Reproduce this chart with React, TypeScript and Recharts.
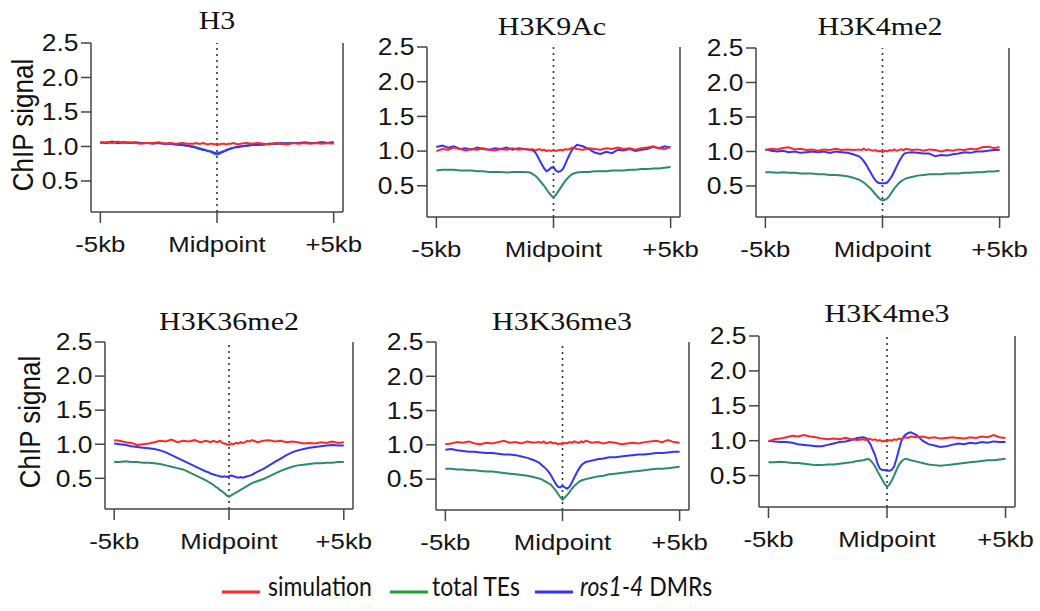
import { LineChart, Line, XAxis, YAxis, ReferenceLine } from 'recharts';

// distance from the midpoint, kb
const positions = [
  -5, -4.75, -4.5, -4.25, -4, -3.75, -3.5, -3.25, -3, -2.75, -2.5, -2.25, -2, -1.75, -1.5, -1.25,
  -1, -0.9, -0.8, -0.7, -0.6, -0.5, -0.4, -0.3, -0.2, -0.1, 0, 0.1, 0.2, 0.3, 0.4, 0.5, 0.6, 0.7, 0.8, 0.9, 1,
  1.25, 1.5, 1.75, 2, 2.25, 2.5, 2.75, 3, 3.25, 3.5, 3.75, 4, 4.25, 4.5, 4.75, 5,
];
const xTicks = [-5, 0, 5];
const xTickLabels = ['-5kb', 'Midpoint', '+5kb'];
const yTicks = [0.5, 1.0, 1.5, 2.0, 2.5];
const seriesNames = ['simulation', 'total TEs', 'ros1-4 DMRs'];

// H3
const h3Sim = [
  1.05, 1.06, 1.05, 1.07, 1.05, 1.06, 1.05, 1.04, 1.05, 1.05, 1.06, 1.04, 1.05, 1.04, 1.05, 1.04,
  1.04, 1.05, 1.04, 1.04, 1.05, 1.04, 1.03, 1.04, 1.04, 1.03, 1.04, 1.03, 1.04, 1.04, 1.03, 1.04, 1.04, 1.05, 1.04, 1.03, 1.04,
  1.05, 1.04, 1.05, 1.04, 1.03, 1.05, 1.04, 1.03, 1.05, 1.04, 1.05, 1.04, 1.05, 1.04, 1.05, 1.04,
];
const h3Te = [
  1.06, 1.05, 1.06, 1.05, 1.06, 1.05, 1.05, 1.05, 1.05, 1.05, 1.05, 1.04, 1.04, 1.03, 1.02, 1.01,
  1.0, 0.99, 0.98, 0.97, 0.96, 0.95, 0.94, 0.93, 0.91, 0.89, 0.88, 0.89, 0.91, 0.93, 0.94, 0.96, 0.97, 0.98, 0.99, 1.0, 1.0,
  1.01, 1.02, 1.03, 1.03, 1.04, 1.04, 1.04, 1.05, 1.05, 1.05, 1.05, 1.05, 1.05, 1.06, 1.05, 1.06,
];
const h3Dmr = [
  1.06, 1.05, 1.07, 1.05, 1.06, 1.05, 1.06, 1.05, 1.05, 1.04, 1.05, 1.04, 1.04, 1.03, 1.02, 1.01,
  0.99, 0.98, 0.97, 0.96, 0.95, 0.95, 0.93, 0.93, 0.92, 0.91, 0.9, 0.91, 0.92, 0.93, 0.95, 0.96, 0.97, 0.98, 0.99, 0.99, 1.0,
  1.01, 1.02, 1.02, 1.03, 1.04, 1.04, 1.05, 1.04, 1.05, 1.05, 1.06, 1.05, 1.05, 1.06, 1.05, 1.06,
];

// H3K9Ac
const k9Sim = [
  1.0, 1.03, 1.02, 1.05, 1.03, 1.01, 1.03, 1.02, 1.04, 1.02, 1.01, 1.03, 1.02, 1.04, 1.02, 1.03,
  1.02, 1.03, 1.01, 1.02, 1.03, 1.01, 1.02, 1.0, 1.01, 1.0, 1.01, 1.0, 1.01, 1.02, 1.01, 1.03, 1.02, 1.03, 1.05, 1.04, 1.03,
  1.02, 1.04, 1.03, 1.02, 1.04, 1.03, 1.05, 1.03, 1.04, 1.02, 1.04, 1.05, 1.07, 1.04, 1.03, 1.06,
];
const k9Te = [
  0.72, 0.73, 0.73, 0.73, 0.72, 0.72, 0.72, 0.71, 0.71, 0.7, 0.7, 0.7, 0.69, 0.7, 0.7, 0.7,
  0.69, 0.67, 0.65, 0.62, 0.58, 0.54, 0.5, 0.45, 0.4, 0.36, 0.33, 0.37, 0.42, 0.47, 0.52, 0.57, 0.61, 0.64, 0.67, 0.68, 0.69,
  0.7, 0.7, 0.71, 0.71, 0.71, 0.72, 0.72, 0.72, 0.73, 0.73, 0.74, 0.74, 0.75, 0.75, 0.76, 0.77,
];
const k9Dmr = [
  1.06, 1.08, 1.05, 1.07, 1.03, 1.04, 1.02, 1.05, 1.03, 1.02, 1.04, 1.03, 1.05, 1.02, 1.04, 1.03,
  1.02, 1.01, 0.99, 0.94, 0.87, 0.81, 0.75, 0.71, 0.73, 0.76, 0.77, 0.72, 0.7, 0.71, 0.74, 0.81, 0.89, 0.96, 1.02, 1.06, 1.09,
  1.07, 1.03, 0.98, 0.96, 0.99, 0.97, 1.02, 1.01, 1.03, 1.0, 1.02, 1.03, 1.06, 1.04, 1.07, 1.05,
];

// H3K4me2
const k4me2Sim = [
  1.02, 1.04, 1.03, 1.05, 1.06, 1.03, 1.04, 1.02, 1.03, 1.01, 1.03, 1.02, 1.04, 1.02, 1.03, 1.02,
  1.03, 1.02, 1.04, 1.02, 1.03, 1.02, 1.01, 1.02, 1.0, 1.01, 0.99, 1.01, 1.0, 1.02, 1.01, 1.03, 1.01, 1.02, 1.03, 1.02, 1.04,
  1.02, 1.03, 1.01, 1.03, 1.02, 1.0, 1.02, 1.01, 1.03, 1.02, 1.04, 1.03, 1.06, 1.07, 1.05, 1.06,
];
const k4me2Te = [
  0.7, 0.7, 0.69, 0.7, 0.69, 0.69, 0.68, 0.68, 0.68, 0.67, 0.67, 0.66, 0.66, 0.65, 0.64, 0.62,
  0.59, 0.57, 0.55, 0.52, 0.49, 0.46, 0.42, 0.38, 0.34, 0.31, 0.29, 0.3, 0.32, 0.36, 0.41, 0.46, 0.5, 0.54, 0.57, 0.59, 0.61,
  0.63, 0.65, 0.66, 0.67, 0.67, 0.67, 0.68, 0.68, 0.68, 0.69, 0.69, 0.7, 0.7, 0.71, 0.71, 0.72,
];
const k4me2Dmr = [
  1.03, 1.01, 1.0, 1.01, 0.99, 1.0, 0.98, 0.99, 1.0, 0.99, 1.0, 0.98, 1.0, 0.99, 0.98, 0.96,
  0.93, 0.9, 0.86, 0.81, 0.75, 0.69, 0.63, 0.58, 0.55, 0.54, 0.54, 0.54, 0.55, 0.59, 0.64, 0.71, 0.78, 0.85, 0.91, 0.96, 0.98,
  0.99, 0.98, 0.97, 0.97, 0.93, 0.95, 0.94, 0.96, 0.97, 0.99, 0.98, 1.0, 1.0, 1.01, 1.02, 1.02,
];

// H3K36me2
const k36me2Sim = [
  1.06, 1.05, 1.03, 1.02, 0.99, 1.0, 1.01, 1.03, 1.05, 1.04, 1.07, 1.03, 1.05, 1.04, 1.06, 1.03,
  1.05, 1.04, 1.03, 1.05, 1.04, 1.03, 1.05, 1.02, 1.01, 1.0, 0.99, 1.01, 1.0, 1.02, 1.01, 1.03, 1.02, 1.03, 1.05, 1.04, 1.06,
  1.03, 1.05, 1.06, 1.04, 1.05, 1.03, 1.04, 1.03, 1.01, 1.02, 1.01, 1.03, 1.02, 1.04, 1.02, 1.03,
];
const k36me2Te = [
  0.74, 0.74, 0.75, 0.74, 0.74, 0.73, 0.73, 0.72, 0.71, 0.69, 0.67, 0.65, 0.63, 0.59, 0.55, 0.51,
  0.47, 0.45, 0.43, 0.41, 0.38, 0.36, 0.33, 0.31, 0.28, 0.25, 0.23, 0.25, 0.27, 0.29, 0.31, 0.33, 0.35, 0.37, 0.39, 0.41, 0.43,
  0.46, 0.49, 0.53, 0.57, 0.61, 0.64, 0.67, 0.69, 0.7, 0.71, 0.72, 0.72, 0.73, 0.73, 0.74, 0.74,
];
const k36me2Dmr = [
  1.01, 1.0, 0.99, 0.97, 0.96, 0.95, 0.94, 0.93, 0.91, 0.88, 0.84, 0.8, 0.76, 0.72, 0.68, 0.64,
  0.6, 0.59, 0.57, 0.56, 0.55, 0.54, 0.53, 0.52, 0.53, 0.52, 0.53, 0.54, 0.53, 0.52, 0.51, 0.52, 0.51, 0.52, 0.53, 0.54, 0.55,
  0.6, 0.64, 0.69, 0.74, 0.79, 0.84, 0.88, 0.91, 0.93, 0.95, 0.96, 0.97, 0.98, 0.99, 0.98, 0.98,
];

// H3K36me3
const k36me3Sim = [
  1.01, 1.02, 1.04, 1.03, 1.05, 1.02, 1.01, 1.03, 1.02, 1.04, 1.06, 1.03, 1.04, 1.02, 1.05, 1.03,
  1.04, 1.03, 1.05, 1.02, 1.03, 1.04, 1.02, 1.03, 1.01, 1.02, 1.01, 1.03, 1.02, 1.04, 1.03, 1.05, 1.04, 1.03, 1.05, 1.04, 1.06,
  1.03, 1.04, 1.02, 1.04, 1.03, 1.01, 1.02, 1.03, 1.02, 1.04, 1.05, 1.06, 1.04, 1.07, 1.04, 1.03,
];
const k36me3Te = [
  0.65, 0.65, 0.64, 0.64, 0.63, 0.63, 0.62, 0.61, 0.61, 0.6, 0.59, 0.58, 0.57, 0.56, 0.55, 0.53,
  0.51, 0.5, 0.48, 0.46, 0.44, 0.42, 0.38, 0.34, 0.29, 0.24, 0.2, 0.23, 0.27, 0.31, 0.36, 0.4, 0.43, 0.46, 0.48, 0.49, 0.5,
  0.52, 0.54, 0.55, 0.57, 0.58, 0.59, 0.6, 0.61, 0.62, 0.63, 0.64, 0.65, 0.65, 0.66, 0.67, 0.68,
];
const k36me3Dmr = [
  0.93, 0.94, 0.92, 0.91, 0.9, 0.9, 0.89, 0.88, 0.88, 0.87, 0.86, 0.86, 0.85, 0.83, 0.81, 0.78,
  0.74, 0.71, 0.68, 0.65, 0.61, 0.56, 0.5, 0.44, 0.39, 0.38, 0.4, 0.38, 0.36, 0.39, 0.45, 0.52, 0.59, 0.65, 0.7, 0.73, 0.75,
  0.77, 0.79, 0.8, 0.82, 0.82, 0.83, 0.84, 0.85, 0.86, 0.86, 0.87, 0.88, 0.88, 0.89, 0.9, 0.9,
];

// H3K4me3
const k4me3Sim = [
  0.99, 1.02, 1.03, 1.05, 1.07, 1.06, 1.08, 1.06, 1.05, 1.03, 1.02, 1.03, 1.02, 1.04, 1.02, 1.01,
  1.02, 1.01, 1.03, 1.02, 1.01, 1.02, 1.0, 1.01, 0.99, 1.0, 0.99, 1.01, 1.0, 1.02, 1.01, 1.03, 1.02, 1.04, 1.05, 1.04, 1.06,
  1.05, 1.06, 1.04, 1.05, 1.03, 1.04, 1.05, 1.04, 1.03, 1.05, 1.04, 1.06, 1.05, 1.08, 1.05, 1.04,
];
const k4me3Te = [
  0.69, 0.69, 0.7, 0.69, 0.68, 0.68, 0.67, 0.66, 0.65, 0.65, 0.66, 0.66, 0.67, 0.68, 0.69, 0.71,
  0.72, 0.73, 0.74, 0.72, 0.68, 0.63, 0.56, 0.5, 0.44, 0.38, 0.34, 0.37, 0.43, 0.5, 0.58, 0.65, 0.7, 0.73, 0.74, 0.73, 0.72,
  0.7, 0.68, 0.66, 0.65, 0.64, 0.65, 0.66, 0.67, 0.68, 0.69, 0.7, 0.71, 0.72, 0.72, 0.73, 0.74,
];
const k4me3Dmr = [
  1.0, 0.99, 0.98, 0.98, 0.97, 0.95, 0.94, 0.93, 0.92, 0.92, 0.94, 0.96, 0.98, 0.99, 1.01, 1.04,
  1.05, 1.04, 1.0, 0.95, 0.87, 0.79, 0.67, 0.6, 0.58, 0.58, 0.57, 0.57, 0.58, 0.63, 0.74, 0.87, 0.99, 1.06, 1.09, 1.11, 1.12,
  1.08, 1.0, 0.95, 0.93, 0.91, 0.92, 0.94, 0.96, 0.95, 0.97, 0.96, 0.98, 0.97, 0.99, 0.98, 0.98,
];

const panels = [
  { title: 'H3', sim: h3Sim, te: h3Te, dmr: h3Dmr },
  { title: 'H3K9Ac', sim: k9Sim, te: k9Te, dmr: k9Dmr },
  { title: 'H3K4me2', sim: k4me2Sim, te: k4me2Te, dmr: k4me2Dmr },
  { title: 'H3K36me2', sim: k36me2Sim, te: k36me2Te, dmr: k36me2Dmr },
  { title: 'H3K36me3', sim: k36me3Sim, te: k36me3Te, dmr: k36me3Dmr },
  { title: 'H3K4me3', sim: k4me3Sim, te: k4me3Te, dmr: k4me3Dmr },
];

// plot boxes on the page (left, right, top, bottom) and title anchors
const boxes = [
  { l: 91, r: 343, t: 43, b: 212, tx: 217, ty: 29 },
  { l: 427, r: 680, t: 47, b: 217, tx: 552, ty: 35 },
  { l: 756, r: 1009, t: 48, b: 217, tx: 880, ty: 35 },
  { l: 105, r: 353, t: 342, b: 509, tx: 229, ty: 330 },
  { l: 436, r: 689, t: 342, b: 510, tx: 562, ty: 330 },
  { l: 759, r: 1015, t: 336, b: 507, tx: 887, ty: 322 },
];

const SIM = '#ff2626';
const TE = '#2b8c6c';
const DMR = '#3333ff';
const AXIS = '#454545';
const SANS = '"Liberation Sans", Arial, sans-serif';
const PAD_L = 100;
const PAD_R = 40;
const PAD_T = 12;
const PAD_B = 50;

function XTick(props: any) {
  const { x, y, payload } = props;
  const label = xTickLabels[xTicks.indexOf(payload.value)];
  return (
    <text transform={`translate(${x},${y + 27}) scale(1.12,1)`} textAnchor="middle"
      fontFamily={SANS} fontSize={23} fill="#151515">{label}</text>
  );
}

function YTick(props: any) {
  const { x, y, payload } = props;
  return (
    <text transform={`translate(${x - 0.5},${y}) scale(1.15,1)`} textAnchor="end" dy="0.36em"
      fontFamily={SANS} fontSize={23} fill="#151515">{Number(payload.value).toFixed(1)}</text>
  );
}

function Panel({ idx }: { idx: number }) {
  const p = panels[idx];
  const bx = boxes[idx];
  const rows = positions.map((x, i) => ({ x, sim: p.sim[i], te: p.te[i], dmr: p.dmr[i] }));
  const w = bx.r - bx.l + PAD_L + PAD_R;
  const h = bx.b - bx.t + PAD_T + PAD_B;
  return (
    <div style={{ position: 'absolute', left: bx.l - PAD_L, top: bx.t - PAD_T, width: w, height: h }}>
      <LineChart width={w} height={h} data={rows} margin={{ top: PAD_T, right: PAD_R, bottom: 0, left: 0 }}>
        <XAxis type="number" dataKey="x" domain={[-5.4, 5.4]} ticks={xTicks} interval={0} allowDataOverflow
          height={PAD_B} tickSize={11} axisLine={{ stroke: AXIS, strokeWidth: 1.5 }}
          tickLine={{ stroke: AXIS, strokeWidth: 1.5 }} tick={(t: any) => <XTick {...t} />} />
        <YAxis type="number" domain={[0.05, 2.5]} ticks={yTicks} interval={0} allowDataOverflow
          width={PAD_L} tickSize={10} axisLine={{ stroke: AXIS, strokeWidth: 1.5 }}
          tickLine={{ stroke: AXIS, strokeWidth: 1.5 }} tick={(t: any) => <YTick {...t} />} />
        <ReferenceLine x={0} stroke="#333" strokeDasharray="2 4" strokeWidth={1.6} />
        <ReferenceLine x={5.4} stroke={AXIS} strokeWidth={1.5} />
        <Line type="linear" dataKey="te" stroke={TE} strokeWidth={2} dot={false} isAnimationActive={false} />
        <Line type="linear" dataKey="dmr" stroke={DMR} strokeWidth={2} dot={false} isAnimationActive={false} />
        <Line type="linear" dataKey="sim" stroke={SIM} strokeWidth={2} dot={false} isAnimationActive={false} />
      </LineChart>
    </div>
  );
}

export default function App() {
  return (
    <div style={{ position: 'absolute', left: 0, top: 0, width: 1040, height: 611, background: '#fff', overflow: 'hidden' }}>
      {panels.map((_, i) => <Panel key={i} idx={i} />)}
      <svg width={1040} height={611} style={{ position: 'absolute', left: 0, top: 0, pointerEvents: 'none' }}>
        {panels.map((p, i) => (
          <text key={p.title} transform={`translate(${boxes[i].tx},${boxes[i].ty}) scale(1.2,1)`} textAnchor="middle"
            fontFamily='"Liberation Serif", "Times New Roman", serif' fontSize={25} fill="#111">{p.title}</text>
        ))}
        <text transform="translate(33,125) rotate(-90) scale(1,1.1)" textAnchor="middle"
          fontFamily={SANS} fontSize={26} fill="#111">ChIP signal</text>
        <text transform="translate(40,422) rotate(-90) scale(1,1.1)" textAnchor="middle"
          fontFamily={SANS} fontSize={26} fill="#111">ChIP signal</text>
        <rect x={222} y={590.5} width={38} height={3} fill={SIM} />
        <text transform="translate(268,596) scale(1,1.15)" fontFamily="Lato, sans-serif" fontSize={23} fill="#111">{seriesNames[0]}</text>
        <rect x={390} y={590.5} width={38} height={3} fill="#22a035" />
        <text transform="translate(432,596) scale(1,1.15)" fontFamily="Lato, sans-serif" fontSize={23} fill="#111">{seriesNames[1]}</text>
        <rect x={535} y={590.5} width={38} height={3} fill={DMR} />
        <text transform="translate(580,596) scale(1,1.15)" fontFamily="Lato, sans-serif" fontSize={23} fill="#111">
          <tspan fontStyle="italic">{seriesNames[2].split(' ')[0]}</tspan>
          <tspan>{' ' + seriesNames[2].split(' ')[1]}</tspan>
        </text>
      </svg>
    </div>
  );
}
